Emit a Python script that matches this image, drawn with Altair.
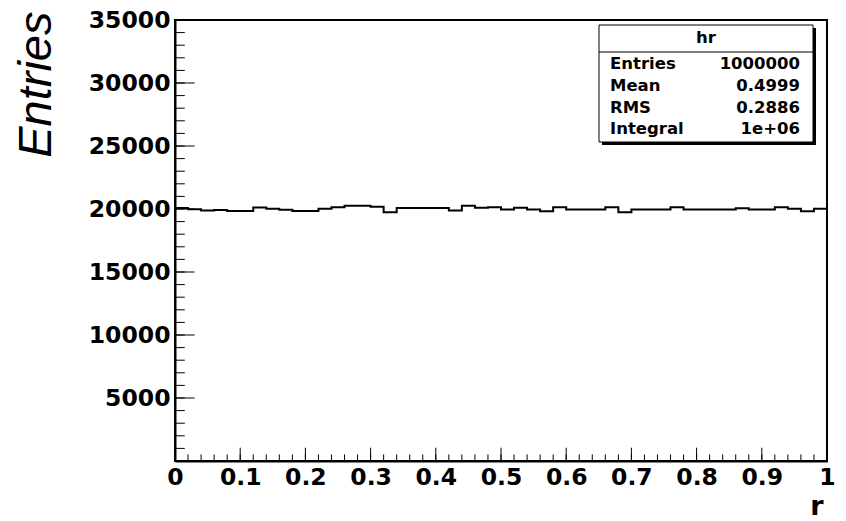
import altair as alt
import pandas as pd

# ---- data ----
counts = [20080, 19980, 19880, 19930, 19850, 19850, 20110, 20010, 19950, 19840,
          19840, 20010, 20130, 20250, 20250, 20180, 19750, 20080, 20080, 20080,
          20080, 19890, 20260, 20090, 20140, 19960, 20090, 19960, 19830, 20140,
          19960, 19960, 19960, 20140, 19750, 19960, 19960, 19960, 20140, 19960,
          19960, 19960, 19960, 20060, 19960, 19960, 20140, 20010, 19830, 20010]
x_lo, x_hi = 0.0, 1.0
x_major = [0, 0.1, 0.2, 0.3, 0.4, 0.5, 0.6, 0.7, 0.8, 0.9, 1]
x_minor = [round(i * 0.02, 2) for i in range(51)]
y_major = [5000, 10000, 15000, 20000, 25000, 30000, 35000]
y_minor = [1000 * i for i in range(1, 36)]
stat_title = "hr"
stat_names = ["Entries", "Mean", "RMS", "Integral"]
stat_values = ["1000000", "0.4999", "0.2886", "1e+06"]

W, H = 652, 441
n_bins = len(counts)
edges = [x_lo + i * (x_hi - x_lo) / n_bins for i in range(n_bins + 1)]
hist = pd.DataFrame({"r": edges, "n": counts + [counts[-1]]})

xs = alt.Scale(domain=[x_lo, x_hi], nice=False, zero=False)
ys = alt.Scale(domain=[0, 35000], nice=False)

LABEL_FONT = "DejaVu Sans"

line = alt.Chart(hist).mark_line(
    interpolate="step-after", color="black", strokeWidth=2
).encode(
    x=alt.X("r:Q", scale=xs, axis=alt.Axis(
        values=x_major, format="~g", title="r", labelFlush=False,
        labelOverlap=False, labelPadding=4, labelBaseline="top",
        titleFont=LABEL_FONT, titleFontWeight="bold", titleFontSize=27,
        titleX=W - 4, titleY=53, titleAlign="right", titleBaseline="alphabetic")),
    y=alt.Y("n:Q", scale=ys, axis=alt.Axis(
        values=y_major, format="d", title="Entries", labelFlush=False,
        labelOverlap=False, labelPadding=5,
        titleFont="Liberation Sans", titleFontStyle="italic",
        titleFontWeight="normal", titleFontSize=47, titleAngle=270,
        titleAlign="right", titleBaseline="middle", titleX=-139, titleY=-9)),
)

one = pd.DataFrame({"k": [0]})

def xtick(vals, length):
    return alt.Chart(pd.DataFrame({"r": vals})).mark_rule(
        color="black", strokeWidth=1
    ).encode(x=alt.X("r:Q", scale=xs), y=alt.value(H), y2=alt.value(H - length))

def ytick(vals, length):
    return alt.Chart(pd.DataFrame({"n": vals})).mark_rule(
        color="black", strokeWidth=1
    ).encode(y=alt.Y("n:Q", scale=ys), x=alt.value(0), x2=alt.value(length))

ticks = [xtick(x_minor, 6.6), xtick(x_major, 13.3),
         ytick(y_minor, 9.8), ytick(y_major, 19.6)]

# stats box
bx0, bx1, by0, by1 = 424, 638, 5, 122
shadow = alt.Chart(one).mark_rect(fill="black").encode(
    x=alt.value(bx0 + 3), x2=alt.value(bx1 + 3), y=alt.value(by0 + 3), y2=alt.value(by1 + 3))
box = alt.Chart(one).mark_rect(fill="white", stroke="black", strokeWidth=1).encode(
    x=alt.value(bx0), x2=alt.value(bx1), y=alt.value(by0), y2=alt.value(by1))
sep = alt.Chart(one).mark_rule(color="black", strokeWidth=1).encode(
    x=alt.value(bx0), x2=alt.value(bx1), y=alt.value(32))

txt_style = dict(font=LABEL_FONT, fontWeight="bold", fontSize=16.5, color="black",
                 baseline="middle")
texts = [alt.Chart(one).mark_text(align="center", text=stat_title, **txt_style).encode(
    x=alt.value((bx0 + bx1) / 2), y=alt.value(18))]
row_y = [44, 65.5, 87.5, 109]
for name, val, yy in zip(stat_names, stat_values, row_y):
    texts.append(alt.Chart(one).mark_text(align="left", text=name, **txt_style).encode(
        x=alt.value(435), y=alt.value(yy)))
    texts.append(alt.Chart(one).mark_text(align="right", text=val, **txt_style).encode(
        x=alt.value(625), y=alt.value(yy)))

chart = alt.layer(line, *ticks, shadow, box, sep, *texts).properties(
    width=W, height=H,
    autosize=alt.AutoSizeParams(type="none"),
    padding={"left": 167, "top": 12, "right": 11, "bottom": 60},
).configure_view(
    stroke="black", strokeWidth=2
).configure_axis(
    domainColor="black", domainWidth=2, ticks=False, tickSize=0, grid=False,
    labelFont=LABEL_FONT, labelFontWeight="bold", labelFontSize=23.5,
    labelColor="black", titleColor="black",
)

chart.save("out.html", embed_options={"renderer": "svg", "actions": False})
